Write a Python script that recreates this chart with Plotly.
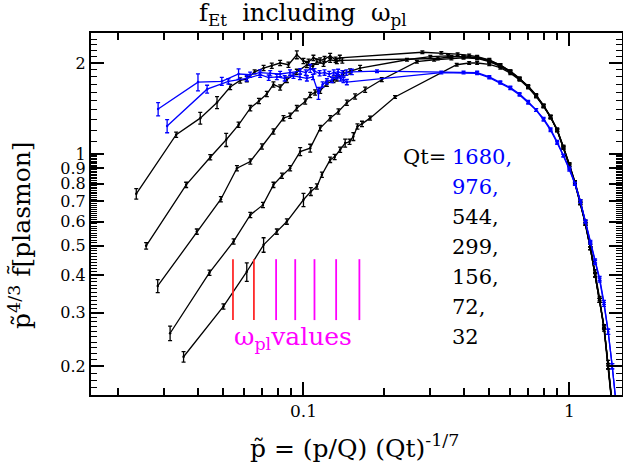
import plotly.graph_objects as go

# Qt values, one curve each
qt_labels = ['1680', '976', '544', '299', '156', '72', '32']

# low-momentum part of each curve (x = p-tilde, y = p^4/3 f, err in %)
x1680 = [0.0284, 0.0401, 0.0493, 0.0570, 0.0630, 0.0687, 0.0750, 0.0817, 0.0890, 0.0972, 0.1020,
         0.106, 0.110, 0.115, 0.120, 0.125, 0.130, 0.135, 0.140, 0.145, 0.152, 0.189]
y1680 = [1.41, 1.73, 1.74, 1.84, 1.83, 1.86, 1.85, 1.84, 1.86, 1.88, 1.86,
         1.92, 1.88, 1.85, 1.86, 1.84, 1.86, 1.87, 1.85, 1.86, 1.87, 1.88]
e1680 = [5, 6.5, 3, 4, 2, 2, 2, 2, 2, 2, 2, 3, 2, 2, 2, 2, 2, 2, 2, 2, 2, 1]

x976 = [0.0307, 0.0434, 0.0522, 0.0612, 0.0687, 0.0740, 0.0794, 0.0850, 0.0917, 0.0970, 0.103,
        0.1085, 0.1139, 0.118, 0.1225, 0.128, 0.1335, 0.138, 0.1414, 0.1456, 0.33, 0.40]
y976 = [1.24, 1.64, 1.74, 1.78, 1.83, 1.79, 1.80, 1.78, 1.815, 1.80, 1.78,
        1.80, 1.59, 1.70, 1.74, 1.76, 1.81, 1.78, 1.76, 1.73, 1.86, 1.86]
e976 = [5, 3, 2, 2, 2, 2, 2, 2, 2, 2, 2, 2, 4.5, 2, 2, 2, 2, 2, 2, 2, 1, 1]

x544 = [0.0235, 0.0332, 0.0409, 0.0473, 0.0530, 0.0578, 0.0612, 0.0655, 0.0708, 0.0760, 0.0817,
        0.0878, 0.0944, 0.1000, 0.1045, 0.1090, 0.1155, 0.1200, 0.1260, 0.1320, 0.1370, 0.28,
        0.33, 0.38, 0.42]
y544 = [0.741, 1.16, 1.316, 1.482, 1.667, 1.752, 1.77, 1.87, 1.925, 1.96, 2.00,
        1.974, 2.13, 2.03, 2.02, 2.08, 2.04, 2.06, 2.11, 2.05, 2.08, 2.17,
        2.16, 2.14, 2.12]
e544 = [4, 2, 4.5, 4.5, 2, 2, 2, 1.5, 2, 2, 2, 2, 3, 2, 2, 2, 2, 2, 2, 2, 2, 1, 1, 1, 1]

x299 = [0.0256, 0.0362, 0.0446, 0.0512, 0.0570, 0.0631, 0.0680, 0.0728, 0.0771, 0.0817, 0.0866,
        0.0944, 0.1030, 0.1085, 0.1123, 0.1190, 0.1260, 0.1335, 0.1400, 0.32, 0.36, 0.40]
y299 = [0.499, 0.793, 0.978, 1.117, 1.251, 1.42, 1.50, 1.58, 1.70, 1.66, 1.76,
        1.87, 1.97, 1.95, 2.02, 1.99, 2.05, 2.03, 2.04, 2.07, 2.10, 2.10]
e299 = [2.5, 2, 2, 5, 2, 2, 2, 2, 2, 2, 2, 2, 2, 2, 2, 2, 2, 2, 2, 1, 1, 1]

x156 = [0.0283, 0.0397, 0.0489, 0.0562, 0.0631, 0.0698, 0.0771, 0.0841, 0.0891, 0.0944, 0.1015,
        0.1060, 0.1106, 0.1156, 0.1225, 0.1297, 0.1335, 0.1414, 0.1497, 0.1633, 0.245, 0.30,
        0.35, 0.40]
y156 = [0.368, 0.556, 0.711, 0.90, 0.947, 1.061, 1.19, 1.316, 1.34, 1.42, 1.494,
        1.57, 1.60, 1.62, 1.71, 1.76, 1.78, 1.85, 1.876, 1.925, 2.05, 2.10,
        2.11, 2.10]
e156 = [5, 2, 2, 2, 2, 2, 2, 2, 2, 2, 2, 2, 2, 2, 2, 2, 2, 2, 2, 2, 1, 1, 1, 1]

x72 = [0.0315, 0.0443, 0.0546, 0.0631, 0.0704, 0.0771, 0.0830, 0.0891, 0.0972, 0.1060, 0.1156,
       0.1260, 0.1354, 0.1456, 0.1564, 0.1706, 0.197, 0.267, 0.31, 0.36, 0.40]
y72 = [0.257, 0.407, 0.516, 0.631, 0.681, 0.793, 0.85, 0.90, 1.021, 1.048, 1.22,
       1.316, 1.384, 1.48, 1.551, 1.633, 1.762, 2.02, 2.05, 2.07, 2.08]
e72 = [5.5, 2, 2, 2, 2, 2, 2, 2, 3, 3, 2, 2, 2, 2, 2, 2, 1.5, 1, 1, 1, 1]

x32 = [0.0354, 0.0500, 0.0612, 0.0708, 0.0794, 0.0866, 0.1000, 0.1066, 0.1123, 0.1173, 0.1260,
       0.1310, 0.1374, 0.1435, 0.1490, 0.1540, 0.1596, 0.1660, 0.178, 0.221, 0.377, 0.42]
y32 = [0.215, 0.315, 0.41, 0.503, 0.556, 0.60, 0.708, 0.754, 0.783, 0.856, 0.959,
       0.98, 1.035, 1.089, 1.10, 1.145, 1.235, 1.26, 1.316, 1.545, 1.974, 2.00]
e32 = [4, 2, 7, 5.5, 2, 2, 5, 3, 2, 2, 2, 2, 2, 3, 2, 3, 2, 2, 1.5, 1, 1, 1]

# high-momentum tail, shared x grid
tail_x = [0.45, 0.50, 0.55, 0.60, 0.65, 0.70, 0.75, 0.80, 0.85, 0.90, 0.95,
          1.00, 1.05, 1.10, 1.15, 1.20, 1.25, 1.30, 1.35, 1.40, 1.45, 1.50]
tail_err = [1, 1, 1, 1, 1, 1, 1, 1, 1, 1, 1, 1, 1, 1, 1, 1, 1.5, 1.5, 1.5, 2, 2, 2]
t1680 = [1.86, 1.80, 1.73, 1.66, 1.58, 1.49, 1.40, 1.31, 1.21, 1.10, 0.99,
         0.90, 0.80, 0.70, 0.60, 0.515, 0.445, 0.39, 0.325, 0.26, 0.20, 0.15]
t976 = [1.85, 1.79, 1.72, 1.65, 1.57, 1.48, 1.40, 1.30, 1.20, 1.09, 0.99,
        0.89, 0.80, 0.70, 0.60, 0.51, 0.44, 0.385, 0.32, 0.26, 0.20, 0.15]
t544 = [2.10, 2.05, 1.97, 1.88, 1.78, 1.68, 1.57, 1.45, 1.33, 1.20, 1.06,
        0.93, 0.81, 0.70, 0.59, 0.49, 0.40, 0.33, 0.265, 0.20, 0.15, 0.11]
t299 = [2.09, 2.04, 1.97, 1.88, 1.78, 1.67, 1.56, 1.44, 1.33, 1.20, 1.05,
        0.92, 0.80, 0.69, 0.59, 0.49, 0.40, 0.33, 0.27, 0.20, 0.15, 0.11]
t156 = [2.08, 2.03, 1.96, 1.87, 1.77, 1.67, 1.56, 1.45, 1.33, 1.21, 1.06,
        0.93, 0.81, 0.70, 0.60, 0.50, 0.41, 0.335, 0.27, 0.205, 0.155, 0.115]
t72 = [2.07, 2.02, 1.95, 1.87, 1.77, 1.67, 1.56, 1.44, 1.33, 1.20, 1.05,
       0.92, 0.80, 0.69, 0.59, 0.49, 0.40, 0.33, 0.27, 0.20, 0.15, 0.11]
t32 = [2.00, 1.98, 1.93, 1.85, 1.76, 1.66, 1.55, 1.44, 1.32, 1.20, 1.05,
       0.92, 0.80, 0.69, 0.59, 0.49, 0.40, 0.33, 0.27, 0.20, 0.15, 0.11]

# plasmon frequencies (one per Qt)
wpl_values = [0.0543, 0.0651, 0.0789, 0.0931, 0.110, 0.1327, 0.1623]
wpl_colors = ['#ff2a2a', '#ff2a2a', '#ff00ff', '#ff00ff', '#ff00ff', '#ff00ff', '#ff00ff']

y_tickvals = [0.2, 0.3, 0.4, 0.5, 0.6, 0.7, 0.8, 0.9, 1, 2]
y_ticktext = ['0.2', '0.3', '0.4', '0.5', '0.6', '0.7', '0.8', '0.9', '1', '2']
x_tickvals = [0.1, 1]
x_ticktext = ['0.1', '1']

curves = [
    (x1680, y1680, e1680, t1680, '#0000ff'),
    (x976, y976, e976, t976, '#0000ff'),
    (x544, y544, e544, t544, 'black'),
    (x299, y299, e299, t299, 'black'),
    (x156, y156, e156, t156, 'black'),
    (x72, y72, e72, t72, 'black'),
    (x32, y32, e32, t32, 'black'),
]

fig = go.Figure()

# draw black ones first, blue on top
for i in [2, 3, 4, 5, 6, 0, 1]:
    hx, hy, he, ty, col = curves[i]
    xs = hx + tail_x
    ys = hy + ty
    errs = [y * p / 100 for y, p in zip(ys, he + tail_err)]
    fig.add_trace(go.Scatter(x=xs, y=ys, mode='lines+markers', name='Qt=' + qt_labels[i],
                             line=dict(color=col, width=1.3), marker=dict(color=col, size=2.5),
                             error_y=dict(type='data', array=errs, color=col, thickness=1.3, width=2)))

wlo, whi = 0.284, 0.451
for w, c in zip(wpl_values, wpl_colors):
    fig.add_trace(go.Scatter(x=[w, w], y=[wlo, whi], mode='lines',
                             line=dict(color=c, width=1.8), hoverinfo='skip'))

# same axes again on top/right, only to carry the mirrored ticks
fig.add_trace(go.Scatter(x=x544, y=y544, xaxis='x2', yaxis='y2', mode='lines',
                         line=dict(color='rgba(0,0,0,0)'), hoverinfo='skip'))

x_minor = [k / 100 for k in range(2, 10)] + [k / 10 for k in range(2, 10)]
y_minor = [k / 100 for k in range(17, 100) if k % 10 != 0] + [k / 10 for k in range(11, 26) if k != 20]

xax = dict(type='log', range=[-1.7992, 0.1981], tickvals=x_tickvals, ticktext=x_ticktext,
           ticks='inside', ticklen=13, tickwidth=1.5, tickcolor='black',
           minor=dict(tickvals=x_minor, ticks='inside', ticklen=7, tickwidth=1.5, tickcolor='black'),
           showgrid=False, zeroline=False, automargin=False, tickfont=dict(size=17))
yax = dict(type='log', range=[-0.7937, 0.4], tickvals=y_tickvals, ticktext=y_ticktext,
           ticks='inside', ticklen=13, tickwidth=1.5, tickcolor='black',
           minor=dict(tickvals=y_minor, ticks='inside', ticklen=6, tickwidth=1, tickcolor='black'),
           showgrid=False, zeroline=False, automargin=False, tickfont=dict(size=16))

fig.update_layout(
    xaxis=dict(xax, showline=True, linewidth=2, linecolor='black', mirror=True),
    yaxis=dict(yax, showline=True, linewidth=2, linecolor='black', mirror=True),
    xaxis2=dict(xax, overlaying='x', side='top', anchor='y2', showticklabels=False),
    yaxis2=dict(yax, overlaying='y', side='right', anchor='x2', showticklabels=False),
)

sp = '\u00a0\u00a0'
ann = [
    dict(text='f<sub>Et</sub>' + sp + 'including' + sp + 'ω<sub>pl</sub>', x=0.40, y=1.05,
         font=dict(size=24)),
    dict(text='p̃ = (p/Q) (Qt)<sup>-1/7</sup>', x=0.497, y=-0.142, font=dict(size=25)),
    dict(text='p̃<sup>4/3</sup> f̃[plasmon]', x=-0.132, y=0.442, textangle=-90, font=dict(size=25)),
    dict(text='ω<sub>pl</sub>values', x=0.381, y=0.158, font=dict(size=25, color='#ff00ff')),
    dict(text='Qt=', x=0.672, y=0.658, xanchor='right', font=dict(size=21)),
]
for i, q in enumerate(qt_labels):
    sep = ',' if i < len(qt_labels) - 1 else ''
    ann.append(dict(text=q + sep, x=0.676, y=0.658 - 0.0829 * i, xanchor='left',
                    font=dict(size=21, color='#0000ff' if i < 2 else 'black')))
for a in ann:
    a.setdefault('xanchor', 'center')
    a.update(xref='paper', yref='paper', showarrow=False, yanchor='middle')
fig.update_layout(annotations=ann)

fig.update_layout(width=623, height=464, margin=dict(l=91, r=1, t=33, b=69),
                  paper_bgcolor='white', plot_bgcolor='white', showlegend=False,
                  font=dict(family='DejaVu Serif', color='black'))

# drop the default page margin so the figure sits at the window corner
fig.write_html('out.html', config={'displayModeBar': False},
               post_script="document.body.style.margin='0';")
